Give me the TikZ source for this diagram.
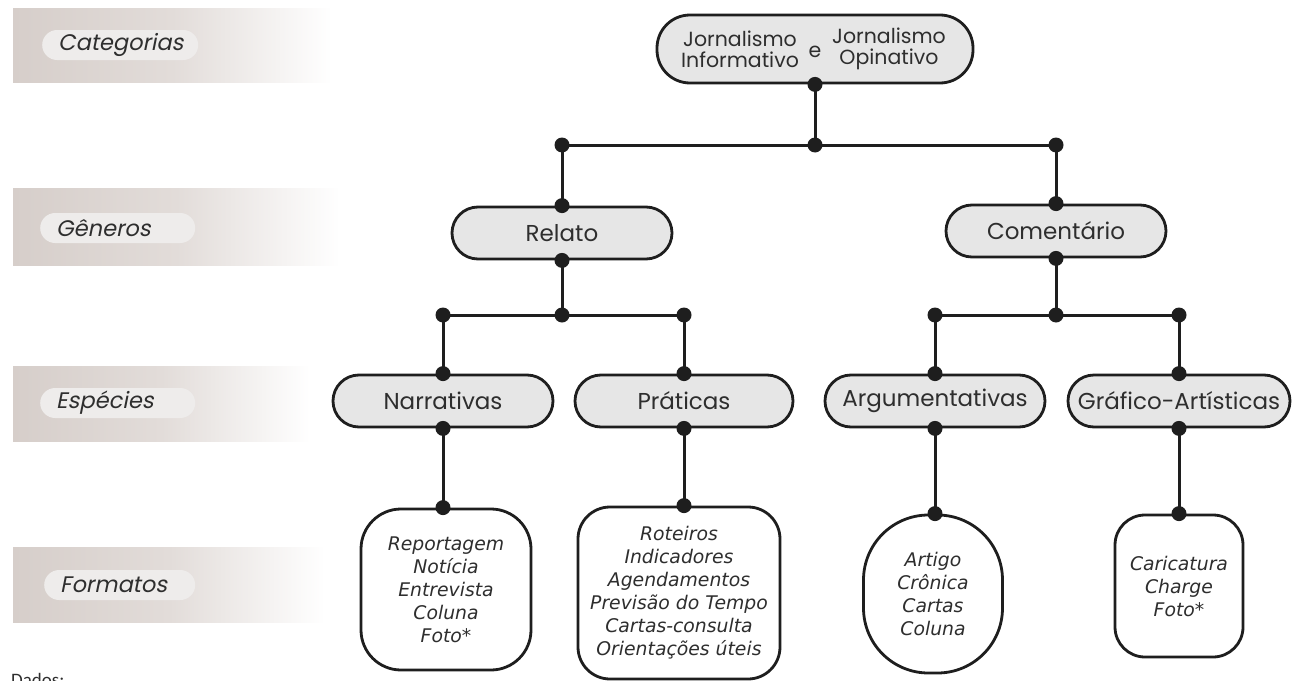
\documentclass[tikz,border=0pt]{standalone}
\usepackage{fontspec}
\newfontfamily\gfont{Poppins}
\newfontfamily\gsl{Poppins}[FakeSlant=0.2]
\newfontfamily\vfont{DejaVu Sans}
\newfontfamily\cfont{Carlito}
\definecolor{bandc}{HTML}{D6CECA}
\definecolor{bandm}{HTML}{E2DCD9}
\definecolor{pillc}{HTML}{EEECEB}
\definecolor{boxc}{HTML}{E6E6E6}
\definecolor{linec}{HTML}{1E1E1E}
\definecolor{textc}{HTML}{2E2E2E}
\tikzset{
  band/.style={left color=bandc, right color=white, middle color=bandm},
  pill/.style={fill=pillc, rounded corners=15pt, minimum height=30pt, inner xsep=16pt, inner ysep=0pt, anchor=west, text=textc, font=\gsl\fontsize{22.5}{22.5}\selectfont},
  gbox/.style={draw=linec, line width=2.8pt, fill=boxc, rounded corners=26pt, minimum height=52pt, inner sep=0pt, text=textc, font=\gfont\fontsize{23}{23}\selectfont},
  fbox/.style={draw=linec, line width=2.8pt, fill=white, inner sep=0pt, align=center, text=textc, font=\vfont\itshape\fontsize{18.8}{23}\selectfont},
  conn/.style={draw=linec, line width=3pt},
  dot/.style={fill=linec}
}
\begin{document}
\begin{tikzpicture}[x=1pt,y=-1pt]
\useasboundingbox (0,0) rectangle (1293,680);
\fill[white] (0,0) rectangle (1293,680);
% left bands
\shade[band] (13,8) rectangle (332,82);
\shade[band] (13,188) rectangle (340,265);
\shade[band] (13,366) rectangle (310,441);
\shade[band] (13,547) rectangle (325,622);
\node[pill] (lcat) at (42,45) {\makebox[124pt][l]{Categorias}};
\node[pill] (lgen) at (40,228) {\makebox[123pt][l]{Gêneros}};
\node[pill] (lesp) at (40,403) {\makebox[123pt][l]{Espécies}};
\node[pill] (lfor) at (44,585) {\makebox[119pt][l]{Formatos}};
% top box
\node[gbox, minimum width=316pt, minimum height=68pt, rounded corners=33pt] (top) at (815,49) {};
\node[text=textc, font=\gfont\fontsize{20.5}{21}\selectfont, align=center] (tl) at (740,49) {Jornalismo\\Informativo};
\node[text=textc, font=\gfont\fontsize{20.5}{21}\selectfont] (te) at (815,52) {e};
\node[text=textc, font=\gfont\fontsize{20.5}{21}\selectfont, align=center] (tr) at (889,49) {Jornalismo\\Opinativo};
% genres
\node[gbox, minimum width=220pt] (rel) at (562,233) {Relato};
\node[gbox, minimum width=220pt] (com) at (1056,231) {Comentário};
% species
\node[gbox, minimum width=220pt] (nar) at (443,401) {Narrativas};
\node[gbox, minimum width=218pt] (pra) at (684,401) {Práticas};
\node[gbox, minimum width=220pt] (arg) at (935,401) {Argumentativas};
\node[gbox, minimum width=222pt] (gra) at (1179,401) {Gráfico-Artísticas};
% formats
\node[fbox, minimum width=170pt, minimum height=161pt, rounded corners=40pt] (f1) at (446,589.5) {Reportagem\\Notícia\\Entrevista\\Coluna\\Foto*};
\node[fbox, minimum width=202pt, minimum height=172pt, rounded corners=32pt] (f2) at (679,593) {Roteiros\\Indicadores\\Agendamentos\\Previsão do Tempo\\Cartas-consulta\\Orientações úteis};
\node[fbox, minimum width=139pt, minimum height=158pt, rounded corners=65pt] (f3) at (933,594) {Artigo\\Crônica\\Cartas\\Coluna};
\node[fbox, minimum width=128pt, minimum height=142pt, rounded corners=30pt] (f4) at (1179,586) {Caricatura\\Charge\\Foto*};
% junctions
\coordinate (jt) at (815,145);
\coordinate (jl) at (rel.north |- jt);
\coordinate (jr) at (com.north |- jt);
\coordinate (ja) at (562,315);
\coordinate (ja1) at (nar.north |- ja);
\coordinate (ja2) at (pra.north |- ja);
\coordinate (jb) at (1056,315);
\coordinate (jb1) at (arg.north |- jb);
\coordinate (jb2) at (gra.north |- jb);
\coordinate (e1) at (nar.south |- f1.north);
\coordinate (e2) at (pra.south |- f2.north);
\coordinate (e3) at (arg.south |- f3.north);
\coordinate (e4) at (gra.south |- f4.north);
% connectors
\draw[conn] (top.south) -- (jt);
\draw[conn] (jl) -- (jr);
\draw[conn] (jl) -- (rel.north);
\draw[conn] (jr) -- (com.north);
\draw[conn] (rel.south) -- (ja);
\draw[conn] (ja1) -- (ja2);
\draw[conn] (ja1) -- (nar.north);
\draw[conn] (ja2) -- (pra.north);
\draw[conn] (com.south) -- (jb);
\draw[conn] (jb1) -- (jb2);
\draw[conn] (jb1) -- (arg.north);
\draw[conn] (jb2) -- (gra.north);
\draw[conn] (nar.south) -- (e1);
\draw[conn] (pra.south) -- (e2);
\draw[conn] (arg.south) -- (e3);
\draw[conn] (gra.south) -- (e4);
% dots
\foreach \p in {top.south, jt, jl, jr, rel.north, com.north, rel.south, ja, ja1, ja2, nar.north, pra.north, com.south, jb, jb1, jb2, arg.north, gra.north, nar.south, pra.south, arg.south, gra.south, e1, e2, e3, e4}
  \fill[dot] (\p) circle (7.5pt);
% footer (cut off at the lower edge, as in the reference)
\node[anchor=base west, inner sep=0pt, text=textc, font=\cfont\fontsize{19}{19}\selectfont] (dados) at (11,686) {Dados:};
\end{tikzpicture}
\end{document}
